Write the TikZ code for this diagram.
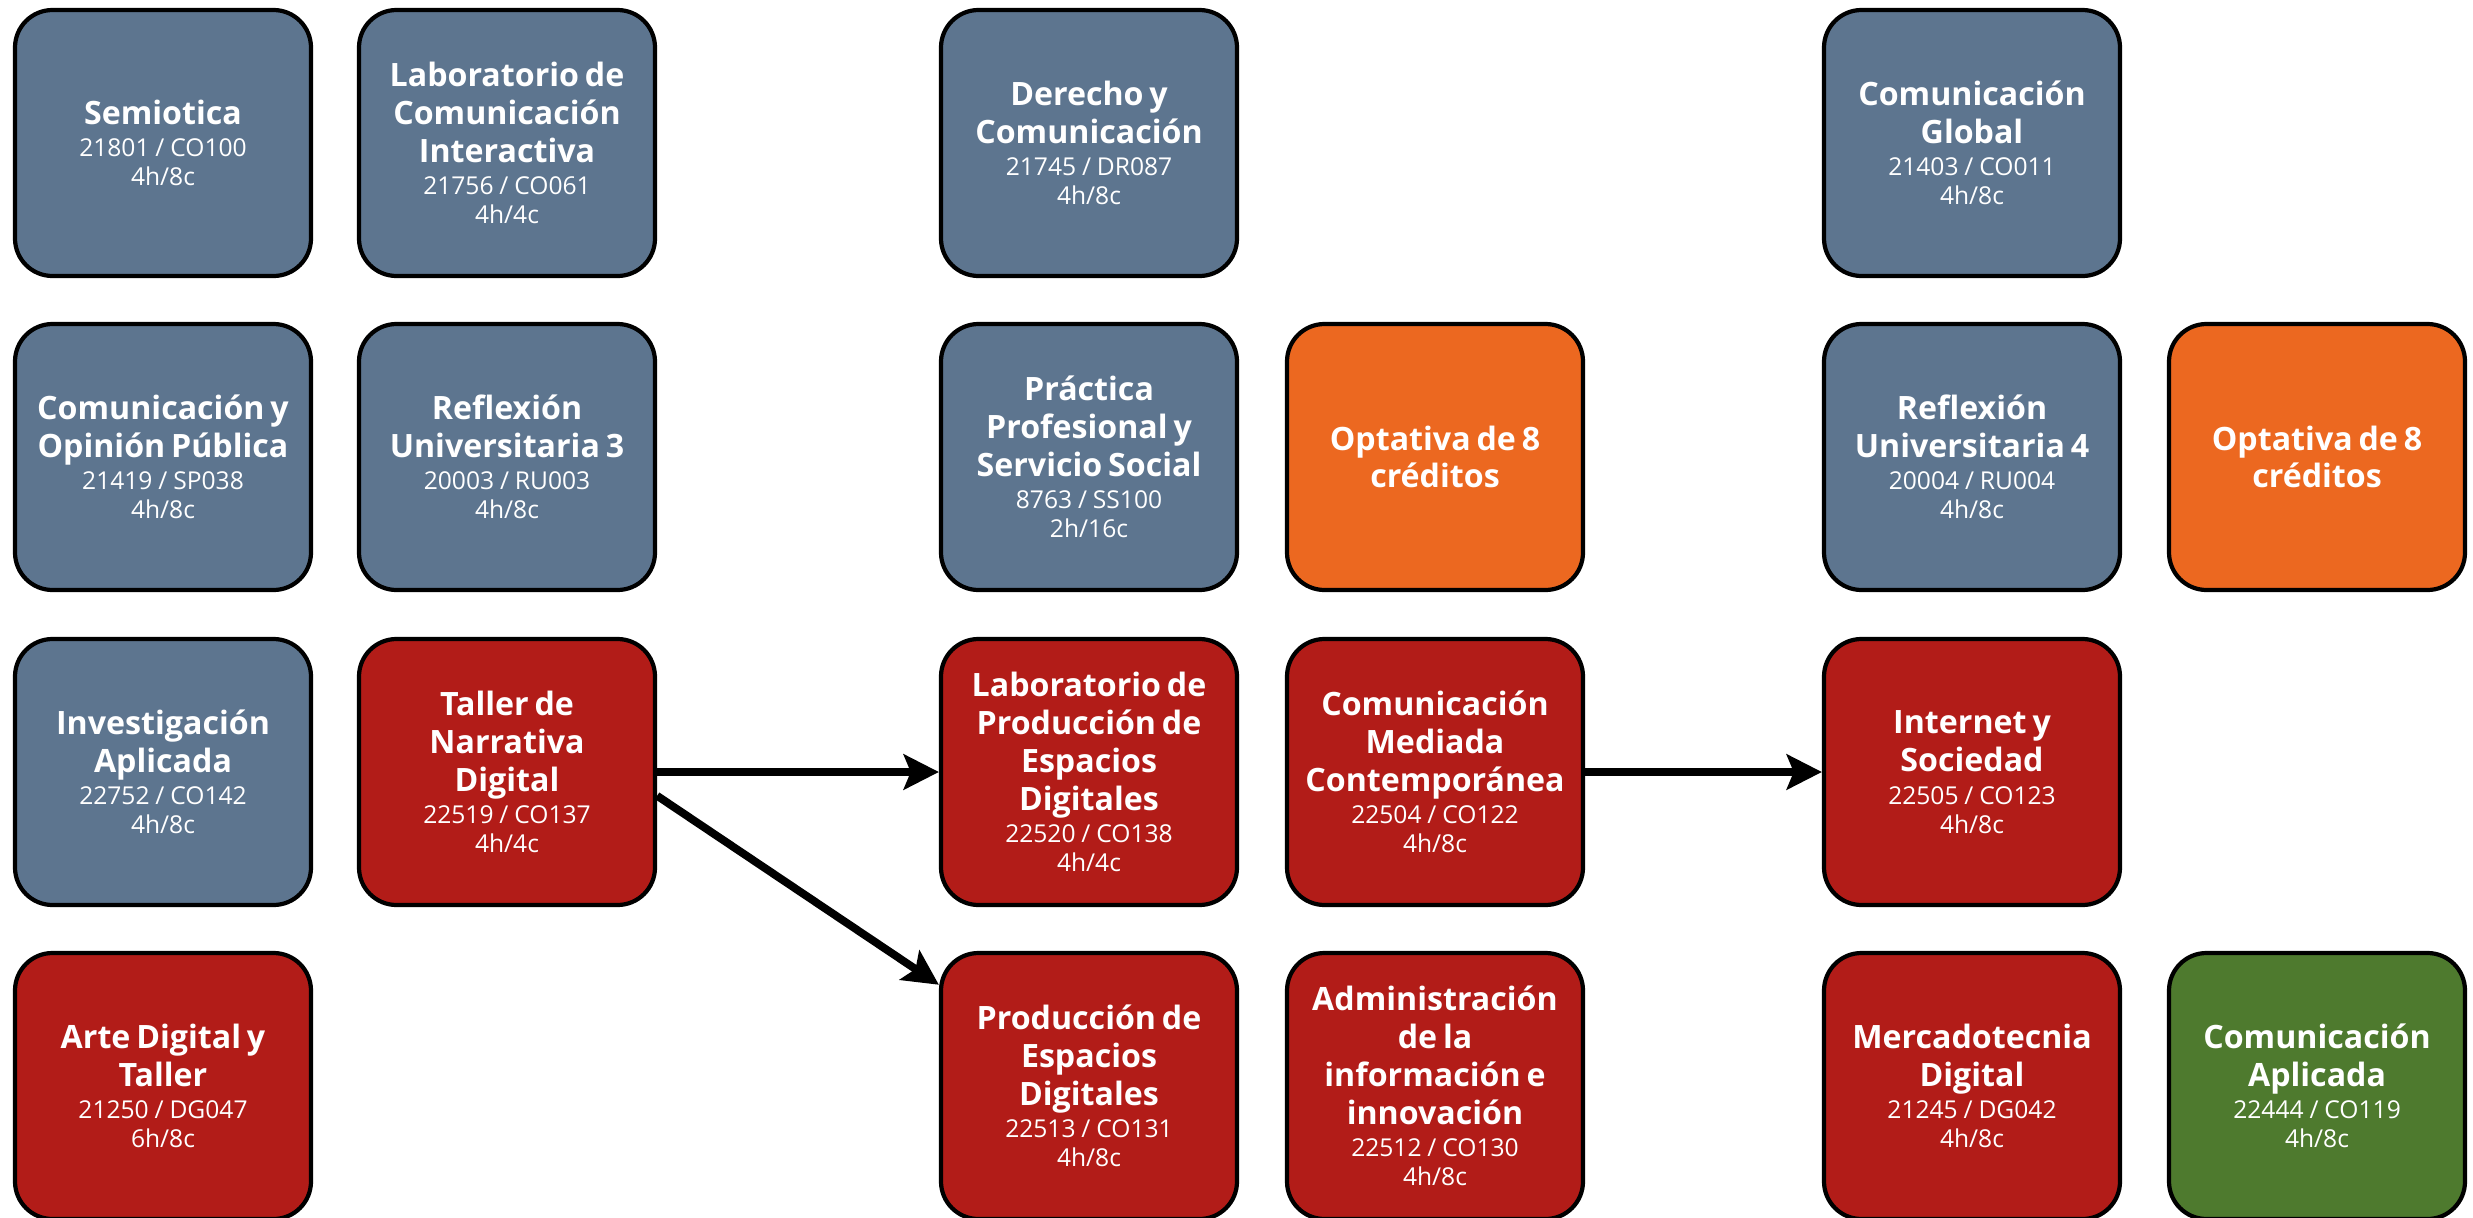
\documentclass[tikz,border=0pt]{standalone}
\usepackage{fontspec}
\setmainfont{Open Sans}
\usepackage{tikz}
\usetikzlibrary{arrows.meta,shapes,positioning}
\usepackage{xcolor}
\definecolor{plslate}{RGB}{93,117,143}
\definecolor{plred}{RGB}{178,28,24}
\definecolor{plorange}{RGB}{236,104,32}
\definecolor{plgreen}{RGB}{78,122,46}
\newcommand{\cname}{\fontsize{18.3}{21.5}\selectfont\bfseries}
\newcommand{\ccode}{\fontsize{14}{16.5}\selectfont}
\tikzstyle{arrow} = [line width=4.5pt,-{Stealth[length=20pt,width=20pt,inset=4pt]},color=black]
\tikzstyle{course} = [rectangle, rounded corners=0.75cm, minimum width=5.92cm, minimum height=5.32cm, text width=5.7cm, align=center, draw=black, line width=2.4pt, text=white, inner sep=0pt]
\tikzstyle{core} = [course, fill=plslate]
\tikzstyle{seq} = [course, fill=plred]
\tikzstyle{elective} = [course, fill=plorange]
\tikzstyle{capstone} = [course, fill=plgreen]

\begin{document}
\begin{tikzpicture}
    \useasboundingbox (0,0) rectangle (49.46,-24.36);

    % Row 1
    \node[core] (semiotica) at (3.26,-2.86) {{\cname Semiotica\par}\vspace{2pt}{\ccode 21801 / CO100\\4h/8c\par}};
    \node[core] (labcom) at (10.14,-2.86) {{\cname Laboratorio de\\Comunicación\\Interactiva\par}\vspace{2pt}{\ccode 21756 / CO061\\4h/4c\par}};
    \node[core] (derecho) at (21.78,-2.86) {{\cname Derecho y\\Comunicación\par}\vspace{2pt}{\ccode 21745 / DR087\\4h/8c\par}};
    \node[core] (comglobal) at (39.44,-2.86) {{\cname Comunicación\\Global\par}\vspace{2pt}{\ccode 21403 / CO011\\4h/8c\par}};

    % Row 2
    \node[core] (comop) at (3.26,-9.14) {{\cname Comunicación y\\Opinión Pública\par}\vspace{2pt}{\ccode 21419 / SP038\\4h/8c\par}};
    \node[core] (reflex3) at (10.14,-9.14) {{\cname Reflexión\\Universitaria 3\par}\vspace{2pt}{\ccode 20003 / RU003\\4h/8c\par}};
    \node[core] (practica) at (21.78,-9.14) {{\cname Práctica\\Profesional y\\Servicio Social\par}\vspace{2pt}{\ccode 8763 / SS100\\2h/16c\par}};
    \node[elective] (optA) at (28.70,-9.14) {{\cname Optativa de 8\\créditos\par}};
    \node[core] (reflex4) at (39.44,-9.14) {{\cname Reflexión\\Universitaria 4\par}\vspace{2pt}{\ccode 20004 / RU004\\4h/8c\par}};
    \node[elective] (optB) at (46.34,-9.14) {{\cname Optativa de 8\\créditos\par}};

    % Row 3
    \node[core] (investig) at (3.26,-15.44) {{\cname Investigación\\Aplicada\par}\vspace{2pt}{\ccode 22752 / CO142\\4h/8c\par}};
    \node[seq] (taller) at (10.14,-15.44) {{\cname Taller de\\Narrativa\\Digital\par}\vspace{2pt}{\ccode 22519 / CO137\\4h/4c\par}};
    \node[seq] (labprod) at (21.78,-15.44) {{\cname Laboratorio de\\Producción de\\Espacios\\Digitales\par}\vspace{2pt}{\ccode 22520 / CO138\\4h/4c\par}};
    \node[seq] (commed) at (28.70,-15.44) {{\cname Comunicación\\Mediada\\Contemporánea\par}\vspace{2pt}{\ccode 22504 / CO122\\4h/8c\par}};
    \node[seq] (internet) at (39.44,-15.44) {{\cname Internet y\\Sociedad\par}\vspace{2pt}{\ccode 22505 / CO123\\4h/8c\par}};

    % Row 4
    \node[seq] (arte) at (3.26,-21.72) {{\cname Arte Digital y\\Taller\par}\vspace{2pt}{\ccode 21250 / DG047\\6h/8c\par}};
    \node[seq] (prod) at (21.78,-21.72) {{\cname Producción de\\Espacios\\Digitales\par}\vspace{2pt}{\ccode 22513 / CO131\\4h/8c\par}};
    \node[seq] (admin) at (28.70,-21.72) {{\cname Administración\\de la\\información e\\innovación\par}\vspace{2pt}{\ccode 22512 / CO130\\4h/8c\par}};
    \node[seq] (mercado) at (39.44,-21.72) {{\cname Mercadotecnia\\Digital\par}\vspace{2pt}{\ccode 21245 / DG042\\4h/8c\par}};
    \node[capstone] (comapl) at (46.34,-21.72) {{\cname Comunicación\\Aplicada\par}\vspace{2pt}{\ccode 22444 / CO119\\4h/8c\par}};

    % Arrows
    \draw[arrow] (taller.east) -- (labprod.west);
    \draw[arrow] (taller.-9) -- (prod.146);
    \draw[arrow] (commed.east) -- (internet.west);
\end{tikzpicture}
\end{document}
